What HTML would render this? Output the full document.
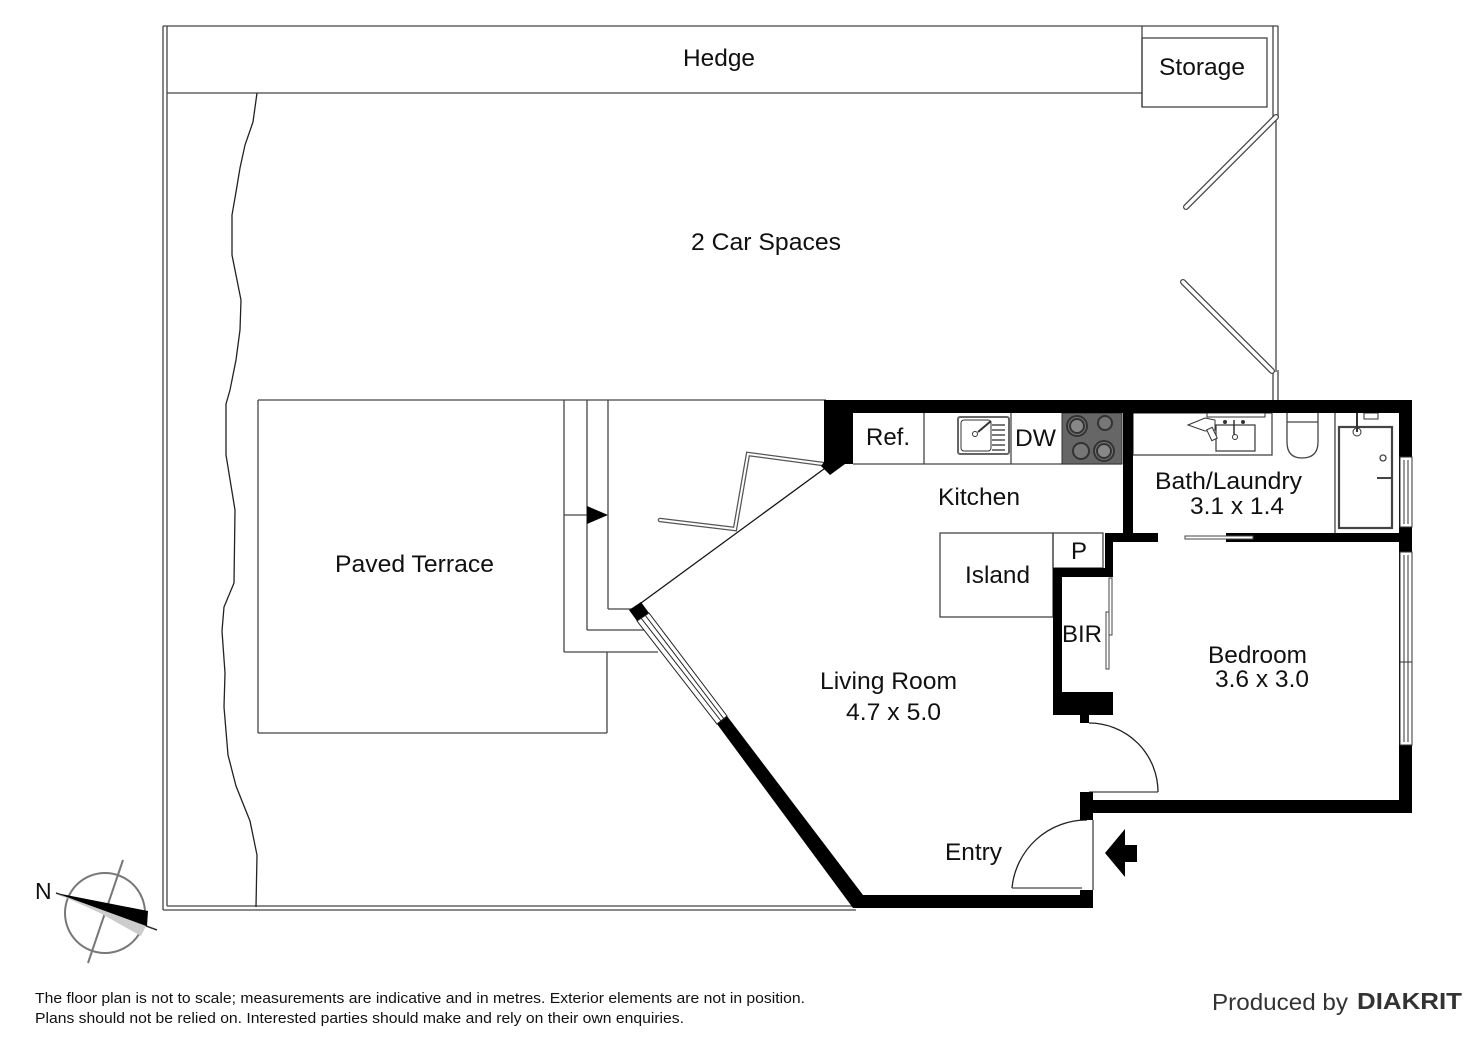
<!DOCTYPE html>
<html><head><meta charset="utf-8"><style>
html,body{margin:0;padding:0;background:#fff;}
svg{display:block;}
text{font-family:"Liberation Sans",Arial,sans-serif;fill:#111;}
</style></head><body>
<svg width="1472" height="1041" viewBox="0 0 1472 1041" xmlns="http://www.w3.org/2000/svg">
<rect width="1472" height="1041" fill="#fff"/>
<g fill="none" stroke="#444" stroke-width="1.3">
<!-- site boundary -->
<line x1="163" y1="26" x2="163" y2="910"/>
<line x1="167" y1="26" x2="167" y2="906"/>
<line x1="163" y1="26" x2="1278" y2="26"/>
<line x1="163" y1="910" x2="856" y2="910"/>
<line x1="167" y1="906" x2="856" y2="906"/>
<line x1="167" y1="93" x2="1142" y2="93"/>
<line x1="1142" y1="26" x2="1142" y2="107"/>
<rect x="1142" y="38" width="125" height="69"/>
<line x1="1273" y1="26" x2="1273" y2="117"/>
<line x1="1278" y1="26" x2="1278" y2="117"/>
<line x1="1276" y1="117" x2="1276" y2="372"/>
<line x1="1273" y1="370" x2="1273" y2="400"/>
<line x1="1278" y1="370" x2="1278" y2="400"/>
<!-- wavy line -->
<path stroke="#222" d="M257,93 L253,122 L245,145 L240,168 L236,192 L232,215 L232,255 L241,300 L240,330 L236,360 L230,390 L226,404 L226,455 L235,510 L234,583 L224,607 L222,631 L225,673 L224,707 L228,755 L236,786 L250,821 L257,855 L256,907"/>
<!-- terrace -->
<line x1="258" y1="400" x2="826" y2="400"/>
<line x1="258" y1="400" x2="258" y2="733"/>
<line x1="258" y1="733" x2="607" y2="733"/>
<line x1="607" y1="652" x2="607" y2="733"/>
<line x1="564" y1="400" x2="564" y2="652"/>
<line x1="564" y1="652" x2="658" y2="652"/>
<line x1="587" y1="400" x2="587" y2="630"/>
<line x1="587" y1="630" x2="645" y2="630"/>
<line x1="608" y1="400" x2="608" y2="609"/>
<line x1="608" y1="609" x2="632" y2="609"/>
<line x1="564" y1="515" x2="587" y2="515"/>
<!-- opening line -->
<line stroke="#111" x1="641" y1="603" x2="828" y2="466"/>
<!-- island / P -->
<rect x="940" y="533" width="113" height="84"/>
<rect x="1053" y="533" width="50" height="35"/>
<!-- kitchen counter -->
<line x1="853" y1="464" x2="1122" y2="464"/>
<line x1="924" y1="413" x2="924" y2="464"/>
<line x1="1011" y1="413" x2="1011" y2="464"/>
<!-- bath -->
<rect x="1133" y="413" width="139" height="42"/>
<line x1="1335" y1="413" x2="1335" y2="533"/>
<rect x="1216" y="425" width="39" height="26"/>
<path d="M1287,413 L1287,442 Q1287,458 1302,458 Q1318,458 1318,442 L1318,413"/>
<line x1="1287" y1="422" x2="1318" y2="422"/>
<rect x="1339" y="427" width="53" height="101" stroke-width="2.2"/>
<circle cx="1383" cy="458" r="3"/>
<line x1="1377" y1="478" x2="1392" y2="478" stroke-width="2"/>
<!-- bedroom door -->
<path stroke="#222" d="M1089,723 A69,69 0 0 1 1158,792"/>
<line x1="1089" y1="792" x2="1158" y2="792"/>
<!-- entry door -->
<path stroke="#222" d="M1012,888 A75,75 0 0 1 1087,820"/>
<line x1="1012" y1="888" x2="1082" y2="888"/>
<line x1="1093" y1="820" x2="1093" y2="890"/>
</g>
<!-- terrace arrow -->
<polygon points="587,506 608,515 587,524" fill="#000"/>
<!-- gates & bifold (double lines) -->
<g stroke-linecap="round">
<line x1="1276" y1="117" x2="1186" y2="207" stroke="#444" stroke-width="6"/>
<line x1="1276" y1="117" x2="1186" y2="207" stroke="#fff" stroke-width="3.5"/>
<line x1="1183" y1="282" x2="1272" y2="371" stroke="#444" stroke-width="6"/>
<line x1="1183" y1="282" x2="1272" y2="371" stroke="#fff" stroke-width="3.5"/>
<polyline points="823,464 748,454 735,529 660,520" fill="none" stroke="#555" stroke-width="4.5"/>
<polyline points="823,464 748,454 735,529 660,520" fill="none" stroke="#fff" stroke-width="2"/>
</g>
<!-- kitchen appliances -->
<rect x="1062" y="413" width="60" height="51" fill="#666" stroke="#333"/>
<g fill="#777" stroke="#333" stroke-width="2">
<circle cx="1077" cy="426" r="10"/><circle cx="1077" cy="426" r="7" fill="#888"/>
<circle cx="1105" cy="423" r="7"/>
<circle cx="1081" cy="451" r="8"/>
<circle cx="1104" cy="451" r="10"/><circle cx="1104" cy="451" r="7" fill="#888"/>
</g>
<rect x="958" y="417" width="51" height="37" rx="2" fill="#fff" stroke="#666" stroke-width="2"/>
<rect x="961" y="420" width="30" height="31" rx="3" fill="#fff" stroke="#333"/>
<circle cx="975" cy="434" r="2.5" fill="none" stroke="#333"/>
<line x1="978" y1="432" x2="991" y2="421" stroke="#333" stroke-width="2"/>
<g stroke="#333" stroke-width="1.3"><line x1="992" y1="425" x2="1005" y2="425"/><line x1="992" y1="430" x2="1005" y2="430"/><line x1="992" y1="435" x2="1005" y2="435"/><line x1="992" y1="440" x2="1005" y2="440"/><line x1="992" y1="445" x2="1005" y2="445"/><line x1="992" y1="450" x2="1005" y2="450"/></g>
<!-- bath details -->
<rect x="1207" y="413" width="58" height="4" fill="#fff" stroke="#333"/>
<circle cx="1225" cy="422" r="2" fill="#333"/><circle cx="1243" cy="422" r="2" fill="#333"/>
<line x1="1234" y1="420" x2="1234" y2="435" stroke="#333" stroke-width="1.5"/>
<circle cx="1235" cy="437" r="2.5" fill="#fff" stroke="#333"/>
<path d="M1188,425 L1205,418 L1215,420 L1215,430 L1205,431 Z" fill="#fff" stroke="#333"/>
<rect x="1209" y="428" width="6" height="12" fill="#fff" stroke="#333" transform="rotate(-25 1212 434)"/>
<rect x="1364" y="413" width="14" height="6" fill="#fff" stroke="#333"/>
<circle cx="1357" cy="432" r="4" fill="#fff" stroke="#333"/>
<line x1="1357" y1="413" x2="1357" y2="432" stroke="#333" stroke-width="2"/>
<!-- walls -->
<g fill="#000">
<rect x="825" y="400" width="587" height="13"/>
<polygon points="824,400 853,400 853,464 845,464 830,475 821,466 824,462"/>
<rect x="1123" y="400" width="10" height="142"/>
<rect x="1105" y="533" width="53" height="9"/>
<rect x="1105" y="533" width="8" height="44"/>
<rect x="1053" y="568" width="60" height="9"/>
<rect x="1053" y="568" width="9" height="147"/>
<rect x="1053" y="692" width="60" height="23"/>
<rect x="1080" y="715" width="9" height="8"/>
<rect x="1226" y="533" width="186" height="9"/>
<rect x="1399" y="400" width="13" height="413"/>
<rect x="1080" y="800" width="332" height="13"/>
<rect x="1080" y="792" width="13" height="28"/>
<rect x="1080" y="890" width="13" height="18"/>
<polygon points="717,724 727,716 863,895 1093,895 1093,908 853,908"/>
<polygon points="629,610 641,602 649,613 637,621"/>
<polygon points="1105,853 1125,829 1125,845 1137,845 1137,862 1125,862 1125,877"/>
</g>
<!-- bath sliding door -->
<rect x="1185" y="536" width="68" height="3" fill="#fff" stroke="#444"/>
<!-- BIR sliding doors -->
<rect x="1109" y="578" width="3" height="57" fill="#fff" stroke="#444"/>
<rect x="1106" y="612" width="3" height="57" fill="#fff" stroke="#444"/>
<!-- right windows -->
<g fill="#fff" stroke="#333" stroke-width="1">
<rect x="1400" y="457" width="12" height="70"/>
<line x1="1404" y1="460" x2="1404" y2="524"/><line x1="1408" y1="460" x2="1408" y2="524"/>
<rect x="1400" y="552" width="12" height="193"/>
<line x1="1404" y1="555" x2="1404" y2="742"/><line x1="1408" y1="555" x2="1408" y2="742"/>
<line x1="1400" y1="662" x2="1412" y2="662"/>
</g>
<!-- diagonal window -->
<polygon points="637,621 649,613 727,716 717,724" fill="#fff" stroke="#222" stroke-width="1"/>
<line x1="641" y1="618" x2="721" y2="721" stroke="#222" stroke-width="1"/>
<line x1="645" y1="615" x2="724" y2="719" stroke="#222" stroke-width="1"/>
<!-- compass -->
<g>
<circle cx="105" cy="913" r="40" fill="none" stroke="#777" stroke-width="2"/>
<line x1="123" y1="860" x2="88" y2="963" stroke="#777" stroke-width="2"/>
<line x1="56" y1="893" x2="157" y2="930" stroke="#333" stroke-width="1.5"/>
<polygon points="56,893 146,926 141,936 100,913" fill="#ccc"/>
<polygon points="56,893 148,911 147,926" fill="#000"/>
<text x="35" y="899" font-size="23">N</text>
</g>
<!-- labels -->
<g font-size="24">
<text x="683" y="66" textLength="72" lengthAdjust="spacingAndGlyphs">Hedge</text>
<text x="1159" y="75" textLength="86" lengthAdjust="spacingAndGlyphs">Storage</text>
<text x="691" y="250" textLength="150" lengthAdjust="spacingAndGlyphs">2 Car Spaces</text>
<text x="335" y="572" textLength="159" lengthAdjust="spacingAndGlyphs">Paved Terrace</text>
<text x="866" y="445" textLength="44" lengthAdjust="spacingAndGlyphs">Ref.</text>
<text x="1015" y="446" textLength="41" lengthAdjust="spacingAndGlyphs">DW</text>
<text x="938" y="505" textLength="82" lengthAdjust="spacingAndGlyphs">Kitchen</text>
<text x="965" y="583" textLength="65" lengthAdjust="spacingAndGlyphs">Island</text>
<text x="1071" y="559" textLength="16" lengthAdjust="spacingAndGlyphs">P</text>
<text x="1062" y="642" textLength="40" lengthAdjust="spacingAndGlyphs">BIR</text>
<text x="1155" y="489" textLength="147" lengthAdjust="spacingAndGlyphs">Bath/Laundry</text>
<text x="1190" y="514" textLength="94" lengthAdjust="spacingAndGlyphs">3.1 x 1.4</text>
<text x="1208" y="663" textLength="99" lengthAdjust="spacingAndGlyphs">Bedroom</text>
<text x="1215" y="687" textLength="94" lengthAdjust="spacingAndGlyphs">3.6 x 3.0</text>
<text x="820" y="689" textLength="137" lengthAdjust="spacingAndGlyphs">Living Room</text>
<text x="846" y="720" textLength="95" lengthAdjust="spacingAndGlyphs">4.7 x 5.0</text>
<text x="945" y="860" textLength="57" lengthAdjust="spacingAndGlyphs">Entry</text>
</g>
<!-- footer -->
<text x="35" y="1003" font-size="14.5" textLength="770" lengthAdjust="spacingAndGlyphs">The floor plan is not to scale; measurements are indicative and in metres. Exterior elements are not in position.</text>
<text x="35" y="1023" font-size="14.5" textLength="649" lengthAdjust="spacingAndGlyphs">Plans should not be relied on. Interested parties should make and rely on their own enquiries.</text>
<text x="1212" y="1010" font-size="23" fill="#333" style="fill:#333" textLength="136" lengthAdjust="spacingAndGlyphs">Produced by</text>
<text x="1357" y="1009" font-size="23" font-weight="bold" style="fill:#333" textLength="105" lengthAdjust="spacingAndGlyphs">DIAKRIT</text>
</svg>
</body></html>
